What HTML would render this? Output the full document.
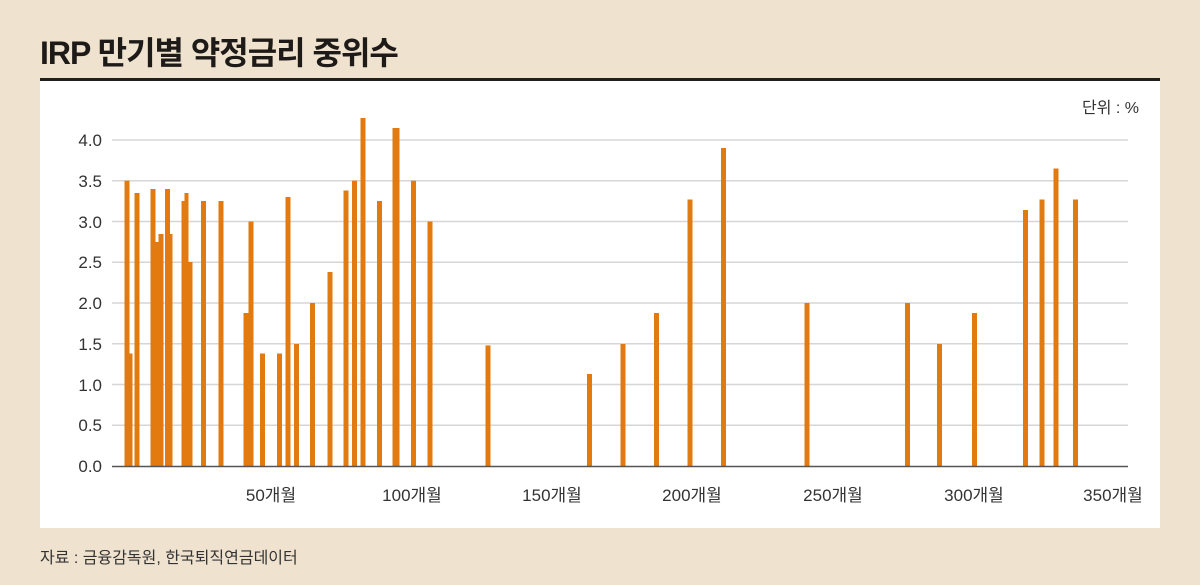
<!DOCTYPE html>
<html><head><meta charset="utf-8"><style>
html,body{margin:0;padding:0;width:1200px;height:585px;overflow:hidden;background:#efe3cf;}
svg{display:block}
</style></head><body>
<svg width="1200" height="585" viewBox="0 0 1200 585" xmlns="http://www.w3.org/2000/svg">
<rect width="1200" height="585" fill="#efe3cf"/>
<text x="40" y="64" font-family="'Liberation Sans','Noto Sans CJK KR',sans-serif" font-weight="bold" font-size="32" fill="#1e1a17" letter-spacing="-1">IRP 만기별 약정금리 중위수</text>
<rect x="40" y="80" width="1120" height="448" fill="#ffffff"/>
<rect x="40" y="78" width="1120" height="3" fill="#231f1c"/>
<text x="1139" y="113" text-anchor="end" font-family="'Liberation Sans','Noto Sans CJK KR',sans-serif" font-size="16" fill="#333">단위 : %</text>
<g stroke="#d6d6d6" stroke-width="1.5">
<line x1="112" x2="1128" y1="140" y2="140"/>
<line x1="112" x2="1128" y1="180.75" y2="180.75"/>
<line x1="112" x2="1128" y1="221.5" y2="221.5"/>
<line x1="112" x2="1128" y1="262.25" y2="262.25"/>
<line x1="112" x2="1128" y1="303" y2="303"/>
<line x1="112" x2="1128" y1="343.75" y2="343.75"/>
<line x1="112" x2="1128" y1="384.5" y2="384.5"/>
<line x1="112" x2="1128" y1="425.25" y2="425.25"/>
</g>
<g font-family="'Liberation Sans',sans-serif" font-size="17" fill="#333" text-anchor="end">
<text x="102" y="146">4.0</text>
<text x="102" y="187">3.5</text>
<text x="102" y="228">3.0</text>
<text x="102" y="268">2.5</text>
<text x="102" y="309">2.0</text>
<text x="102" y="350">1.5</text>
<text x="102" y="391">1.0</text>
<text x="102" y="431">0.5</text>
<text x="102" y="472">0.0</text>
</g>
<g fill="#e27a10">
<rect x="124.5" y="180.75" width="5" height="285.25"/>
<rect x="128.5" y="353.5" width="4" height="112.5"/>
<rect x="134.5" y="193" width="5" height="273"/>
<rect x="150.5" y="189" width="5" height="277"/>
<rect x="154" y="242" width="5" height="224"/>
<rect x="158.5" y="234" width="5" height="232"/>
<rect x="165" y="189" width="5" height="277"/>
<rect x="167.5" y="234" width="5" height="232"/>
<rect x="181.5" y="201" width="5" height="265"/>
<rect x="184.5" y="193" width="4" height="273"/>
<rect x="187.5" y="262" width="5" height="204"/>
<rect x="201" y="201" width="5" height="265"/>
<rect x="218.5" y="201" width="5" height="265"/>
<rect x="243.5" y="313" width="5" height="153"/>
<rect x="248.5" y="221.5" width="5" height="244.5"/>
<rect x="260" y="353.5" width="5" height="112.5"/>
<rect x="277" y="353.5" width="5" height="112.5"/>
<rect x="285.5" y="197" width="5" height="269"/>
<rect x="294" y="344" width="5" height="122"/>
<rect x="310" y="303" width="5" height="163"/>
<rect x="327.5" y="272" width="5" height="194"/>
<rect x="343.5" y="190.5" width="5" height="275.5"/>
<rect x="352" y="180.75" width="5" height="285.25"/>
<rect x="360.5" y="118" width="5" height="348"/>
<rect x="377" y="201" width="5" height="265"/>
<rect x="392.5" y="128" width="7" height="338"/>
<rect x="411" y="180.75" width="5" height="285.25"/>
<rect x="427.5" y="221.5" width="5" height="244.5"/>
<rect x="485.5" y="345.4" width="5" height="120.6"/>
<rect x="587" y="374" width="5" height="92"/>
<rect x="620.5" y="344" width="5" height="122"/>
<rect x="654" y="313" width="5" height="153"/>
<rect x="687.5" y="199.5" width="5" height="266.5"/>
<rect x="721" y="148" width="5" height="318"/>
<rect x="804.5" y="303" width="5" height="163"/>
<rect x="905" y="303" width="5" height="163"/>
<rect x="937" y="344" width="5" height="122"/>
<rect x="972" y="313" width="5" height="153"/>
<rect x="1023" y="210" width="5" height="256"/>
<rect x="1039.5" y="199.5" width="5" height="266.5"/>
<rect x="1053.5" y="168.5" width="5" height="297.5"/>
<rect x="1073" y="199.5" width="5" height="266.5"/>
</g>
<line x1="112" x2="1128" y1="466.5" y2="466.5" stroke="#555" stroke-width="1.5"/>
<g font-family="'Liberation Sans','Noto Sans CJK KR',sans-serif" font-size="17" fill="#333" text-anchor="middle">
<text x="271" y="501">50개월</text>
<text x="412" y="501">100개월</text>
<text x="552" y="501">150개월</text>
<text x="692" y="501">200개월</text>
<text x="833" y="501">250개월</text>
<text x="974" y="501">300개월</text>
<text x="1113" y="501">350개월</text>
</g>
<text x="40" y="563" font-family="'Liberation Sans','Noto Sans CJK KR',sans-serif" font-size="16" fill="#333">자료 : 금융감독원, 한국퇴직연금데이터</text>
</svg>
</body></html>
